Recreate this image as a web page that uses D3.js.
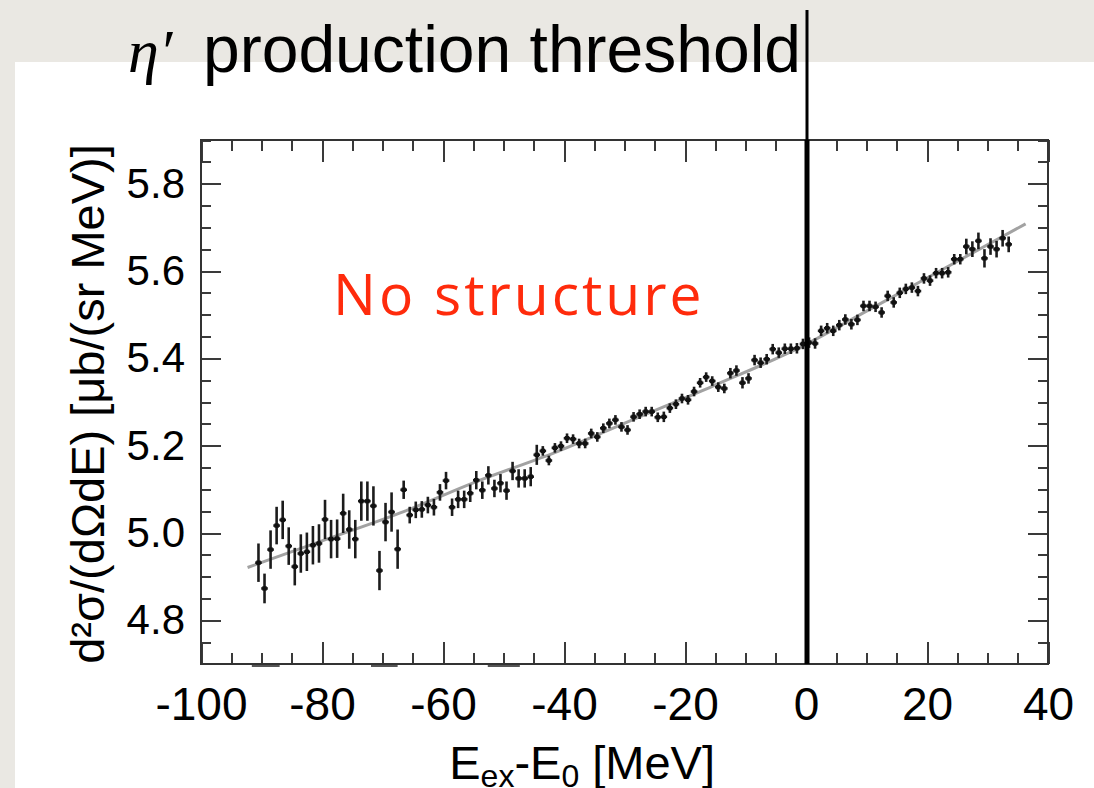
<!DOCTYPE html>
<html>
  <head>
    <meta charset="utf-8">
    <title>eta' production threshold</title>
    <script src="https://cdn.jsdelivr.net/npm/d3@7"></script>
    <style>
      body { margin: 0; background: #eae8e3; }
      svg { display: block; }

      .axis line { stroke: #3a3a3a; stroke-width: 2; shape-rendering: crispEdges; }
      .axis text {
        font-family: 'Liberation Sans', Arial, sans-serif;
        font-size: 42px;
        fill: #000;
      }
      .x.axis text { font-size: 46px; }
      .frame { fill: none; stroke: #333; stroke-width: 2; }
      .fit { fill: none; stroke: #a2a2a2; stroke-width: 3; }
      .points line { stroke: #1c1c1c; stroke-width: 2.6; }
      .points rect { fill: #111; }

      .title { font-family: 'Liberation Sans', Arial, sans-serif; font-size: 66px; fill: #000; }
      .eta { font-family: 'Liberation Serif', 'Times New Roman', serif; font-style: italic; font-size: 62px; fill: #000; }
      .label { font-family: 'Liberation Sans', Arial, sans-serif; font-size: 47px; fill: #000; }
      .note { font-family: 'Open Sans', sans-serif; font-size: 57px; fill: #ff2b0c; letter-spacing: 3px; }
    </style>
  </head>
  <body>
    <script>

      // bin centres [MeV] and measured cross sections
      var energies = [
        -90.5, -89.5, -88.5, -87.5, -86.5, -85.5, -84.5, -83.5, -82.5, -81.5,
        -80.5, -79.5, -78.5, -77.5, -76.5, -75.5, -74.5, -73.5, -72.5, -71.5,
        -70.5, -69.5, -68.5, -67.5, -66.5, -65.5, -64.5, -63.5, -62.5, -61.5,
        -60.5, -59.5, -58.5, -57.5, -56.5, -55.5, -54.5, -53.5, -52.5, -51.5,
        -50.5, -49.5, -48.5, -47.5, -46.5, -45.5, -44.5, -43.5, -42.5, -41.5,
        -40.5, -39.5, -38.5, -37.5, -36.5, -35.5, -34.5, -33.5, -32.5, -31.5,
        -30.5, -29.5, -28.5, -27.5, -26.5, -25.5, -24.5, -23.5, -22.5, -21.5,
        -20.5, -19.5, -18.5, -17.5, -16.5, -15.5, -14.5, -13.5, -12.5, -11.5,
        -10.5, -9.5, -8.5, -7.5, -6.5, -5.5, -4.5, -3.5, -2.5, -1.5,
        -0.5, 0.5, 1.5, 2.5, 3.5, 4.5, 5.5, 6.5, 7.5, 8.5,
        9.5, 10.5, 11.5, 12.5, 13.5, 14.5, 15.5, 16.5, 17.5, 18.5,
        19.5, 20.5, 21.5, 22.5, 23.5, 24.5, 25.5, 26.5, 27.5, 28.5,
        29.5, 30.5, 31.5, 32.5, 33.5
      ];

      var crossSections = [
        4.932, 4.873, 4.962, 5.017, 5.030, 4.970, 4.923, 4.953, 4.957, 4.972,
        4.976, 5.031, 4.986, 4.987, 5.045, 5.008, 4.986, 5.073, 5.073, 5.062,
        4.914, 5.025, 5.048, 4.963, 5.099, 5.041, 5.053, 5.054, 5.064, 5.059,
        5.093, 5.120, 5.059, 5.077, 5.077, 5.091, 5.121, 5.098, 5.132, 5.102,
        5.114, 5.097, 5.142, 5.125, 5.125, 5.129, 5.179, 5.188, 5.166, 5.195,
        5.199, 5.217, 5.215, 5.205, 5.205, 5.228, 5.220, 5.240, 5.251, 5.259,
        5.243, 5.236, 5.266, 5.272, 5.278, 5.278, 5.265, 5.266, 5.286, 5.295,
        5.308, 5.305, 5.324, 5.344, 5.357, 5.348, 5.334, 5.331, 5.366, 5.372,
        5.344, 5.354, 5.396, 5.390, 5.398, 5.421, 5.413, 5.422, 5.422, 5.423,
        5.433, 5.436, 5.434, 5.463, 5.469, 5.463, 5.476, 5.489, 5.478, 5.488,
        5.520, 5.520, 5.518, 5.505, 5.543, 5.528, 5.550, 5.559, 5.562, 5.554,
        5.583, 5.578, 5.595, 5.595, 5.597, 5.627, 5.627, 5.656, 5.650, 5.669,
        5.629, 5.656, 5.650, 5.675, 5.661
      ];

      var errors = [
        0.044, 0.034, 0.044, 0.043, 0.044, 0.043, 0.043, 0.044, 0.044, 0.044,
        0.044, 0.045, 0.044, 0.044, 0.045, 0.044, 0.044, 0.045, 0.045, 0.045,
        0.045, 0.044, 0.045, 0.045, 0.021, 0.019, 0.019, 0.019, 0.019, 0.019,
        0.019, 0.020, 0.020, 0.020, 0.020, 0.020, 0.021, 0.020, 0.021, 0.020,
        0.021, 0.021, 0.021, 0.021, 0.021, 0.022, 0.023, 0.011, 0.011, 0.011,
        0.011, 0.011, 0.011, 0.011, 0.011, 0.011, 0.011, 0.011, 0.011, 0.011,
        0.011, 0.011, 0.011, 0.011, 0.011, 0.011, 0.011, 0.012, 0.011, 0.011,
        0.011, 0.011, 0.011, 0.011, 0.011, 0.011, 0.011, 0.011, 0.012, 0.012,
        0.013, 0.012, 0.012, 0.012, 0.012, 0.012, 0.012, 0.012, 0.012, 0.012,
        0.012, 0.012, 0.012, 0.012, 0.012, 0.012, 0.012, 0.012, 0.012, 0.012,
        0.012, 0.012, 0.012, 0.012, 0.012, 0.012, 0.012, 0.012, 0.012, 0.012,
        0.012, 0.012, 0.012, 0.012, 0.012, 0.012, 0.012, 0.018, 0.018, 0.019,
        0.021, 0.019, 0.019, 0.019, 0.018
      ];

      // smooth background fit (grey curve)
      var fitEnergies = [-92.3, -80, -66.5, -55, -41, -28, -15.3, 0, 10, 20, 36.3];
      var fitValues   = [4.921, 4.982, 5.049, 5.115, 5.187, 5.263, 5.337, 5.432, 5.508, 5.584, 5.708];

      var xMajorTicks = [-100, -80, -60, -40, -20, 0, 20, 40];
      var yMajorTicks = [4.8, 5.0, 5.2, 5.4, 5.6, 5.8];
      var thresholdEnergy = 0;

      // stray dark marks just under the bottom frame
      var bottomMarks = [[-91.6, -87], [-71.9, -67.5], [-52.6, -47.3]];

      var outerWidth = 1094;
      var outerHeight = 788;
      var margin = { left: 201, top: 140, right: 46, bottom: 124 };

      var innerWidth  = outerWidth  - margin.left - margin.right;
      var innerHeight = outerHeight - margin.top  - margin.bottom;

      var svg = d3.select("body").append("svg")
        .attr("width",  outerWidth)
        .attr("height", outerHeight);

      // white slide panel
      svg.append("rect")
        .attr("x", 15).attr("y", 62)
        .attr("width", outerWidth - 15).attr("height", outerHeight - 62)
        .attr("fill", "#fff");

      var g = svg.append("g")
        .attr("transform", "translate(" + margin.left + "," + margin.top + ")");

      var xScale = d3.scaleLinear().domain([-100, 40]).range([0, innerWidth]);
      var yScale = d3.scaleLinear().domain([4.7, 5.9]).range([innerHeight, 0]);

      var xMinor = d3.range(-95, 40, 5).filter(function(d) { return d % 20 !== 0; });
      var yMinor = d3.range(0, 24).map(function(i) { return +(4.75 + i * 0.05).toFixed(2); })
        .filter(function(d) { return Math.round(d * 100) % 20 !== 0; });

      function noDomain(sel) { sel.select(".domain").remove(); }
      function noText(sel) { sel.select(".domain").remove(); sel.selectAll("text").remove(); }

      // bottom
      g.append("g").attr("class", "x axis")
        .attr("transform", "translate(0," + innerHeight + ")")
        .call(d3.axisBottom(xScale).tickValues(xMajorTicks).tickSize(-22).tickSizeOuter(0)
          .tickPadding(23).tickFormat(function(d) { return String(d); }))
        .call(noDomain);
      g.append("g").attr("class", "axis")
        .attr("transform", "translate(0," + innerHeight + ")")
        .call(d3.axisBottom(xScale).tickValues(xMinor).tickSize(-11).tickSizeOuter(0))
        .call(noText);
      // top
      g.append("g").attr("class", "axis")
        .call(d3.axisTop(xScale).tickValues(xMajorTicks).tickSize(-22).tickSizeOuter(0))
        .call(noText);
      g.append("g").attr("class", "axis")
        .call(d3.axisTop(xScale).tickValues(xMinor).tickSize(-11).tickSizeOuter(0))
        .call(noText);
      // left
      g.append("g").attr("class", "y axis")
        .call(d3.axisLeft(yScale).tickValues(yMajorTicks).tickSize(-20).tickSizeOuter(0)
          .tickPadding(16).tickFormat(d3.format(".1f")))
        .call(noDomain);
      g.append("g").attr("class", "axis")
        .call(d3.axisLeft(yScale).tickValues(yMinor).tickSize(-10).tickSizeOuter(0))
        .call(noText);
      // right
      g.append("g").attr("class", "axis")
        .attr("transform", "translate(" + innerWidth + ",0)")
        .call(d3.axisRight(yScale).tickValues(yMajorTicks).tickSize(-20).tickSizeOuter(0))
        .call(noText);
      g.append("g").attr("class", "axis")
        .attr("transform", "translate(" + innerWidth + ",0)")
        .call(d3.axisRight(yScale).tickValues(yMinor).tickSize(-10).tickSizeOuter(0))
        .call(noText);

      g.append("rect").attr("class", "frame")
        .attr("width", innerWidth).attr("height", innerHeight);

      g.selectAll(".bottom-mark").data(bottomMarks).enter().append("line")
        .attr("x1", function(d) { return xScale(d[0]); })
        .attr("x2", function(d) { return xScale(d[1]); })
        .attr("y1", innerHeight + 2).attr("y2", innerHeight + 2)
        .attr("stroke", "#555").attr("stroke-width", 2);

      // fit curve
      var fitData = fitEnergies.map(function(e, i) { return { e: e, v: fitValues[i] }; });
      g.append("path").datum(fitData).attr("class", "fit")
        .attr("d", d3.line()
          .x(function(d) { return xScale(d.e); })
          .y(function(d) { return yScale(d.v); })
          .curve(d3.curveMonotoneX));

      // data points with error bars
      var data = energies.map(function(e, i) {
        return { e: e, v: crossSections[i], err: errors[i] };
      });
      var pts = g.append("g").attr("class", "points")
        .selectAll("g").data(data).enter().append("g");
      pts.append("line")
        .attr("x1", function(d) { return xScale(d.e); })
        .attr("x2", function(d) { return xScale(d.e); })
        .attr("y1", function(d) { return yScale(d.v - d.err); })
        .attr("y2", function(d) { return yScale(d.v + d.err); });
      pts.append("line")
        .attr("x1", function(d) { return xScale(d.e) - 3.3; })
        .attr("x2", function(d) { return xScale(d.e) + 3.3; })
        .attr("y1", function(d) { return yScale(d.v); })
        .attr("y2", function(d) { return yScale(d.v); });
      pts.append("rect")
        .attr("x", function(d) { return xScale(d.e) - 2.2; })
        .attr("y", function(d) { return yScale(d.v) - 2.2; })
        .attr("width", 4.4).attr("height", 4.4);

      // threshold line
      var xT = margin.left + xScale(thresholdEnergy) + 1;
      svg.append("line")
        .attr("x1", xT).attr("x2", xT).attr("y1", 10).attr("y2", margin.top)
        .attr("stroke", "#000").attr("stroke-width", 3);
      g.append("line")
        .attr("x1", xScale(thresholdEnergy) + 1).attr("x2", xScale(thresholdEnergy) + 1)
        .attr("y1", 0).attr("y2", innerHeight)
        .attr("stroke", "#000").attr("stroke-width", 5);

      // texts
      svg.append("text").attr("class", "eta").attr("x", 128).attr("y", 72).text("\u03b7\u2032");
      svg.append("text").attr("class", "title").attr("x", 203).attr("y", 72).text("production threshold");

      svg.append("text").attr("class", "note").attr("x", 333).attr("y", 315).text("No structure");

      var xl = svg.append("text").attr("class", "label")
        .attr("x", margin.left + innerWidth * 0.45).attr("y", 779)
        .attr("text-anchor", "middle");
      xl.append("tspan").text("E");
      xl.append("tspan").attr("font-size", "32px").attr("dy", 8).text("ex");
      xl.append("tspan").attr("dy", -8).text("-E");
      xl.append("tspan").attr("font-size", "32px").attr("dy", 8).text("0");
      xl.append("tspan").attr("dy", -8).text(" [MeV]");

      svg.append("text").attr("class", "label")
        .attr("transform", "translate(104," + (margin.top + innerHeight / 2 + 2) + ") rotate(-90)")
        .attr("text-anchor", "middle")
        .text("d\u00b2\u03c3/(d\u03a9dE) [\u03bcb/(sr MeV)]");

    </script>
  </body>
</html>
